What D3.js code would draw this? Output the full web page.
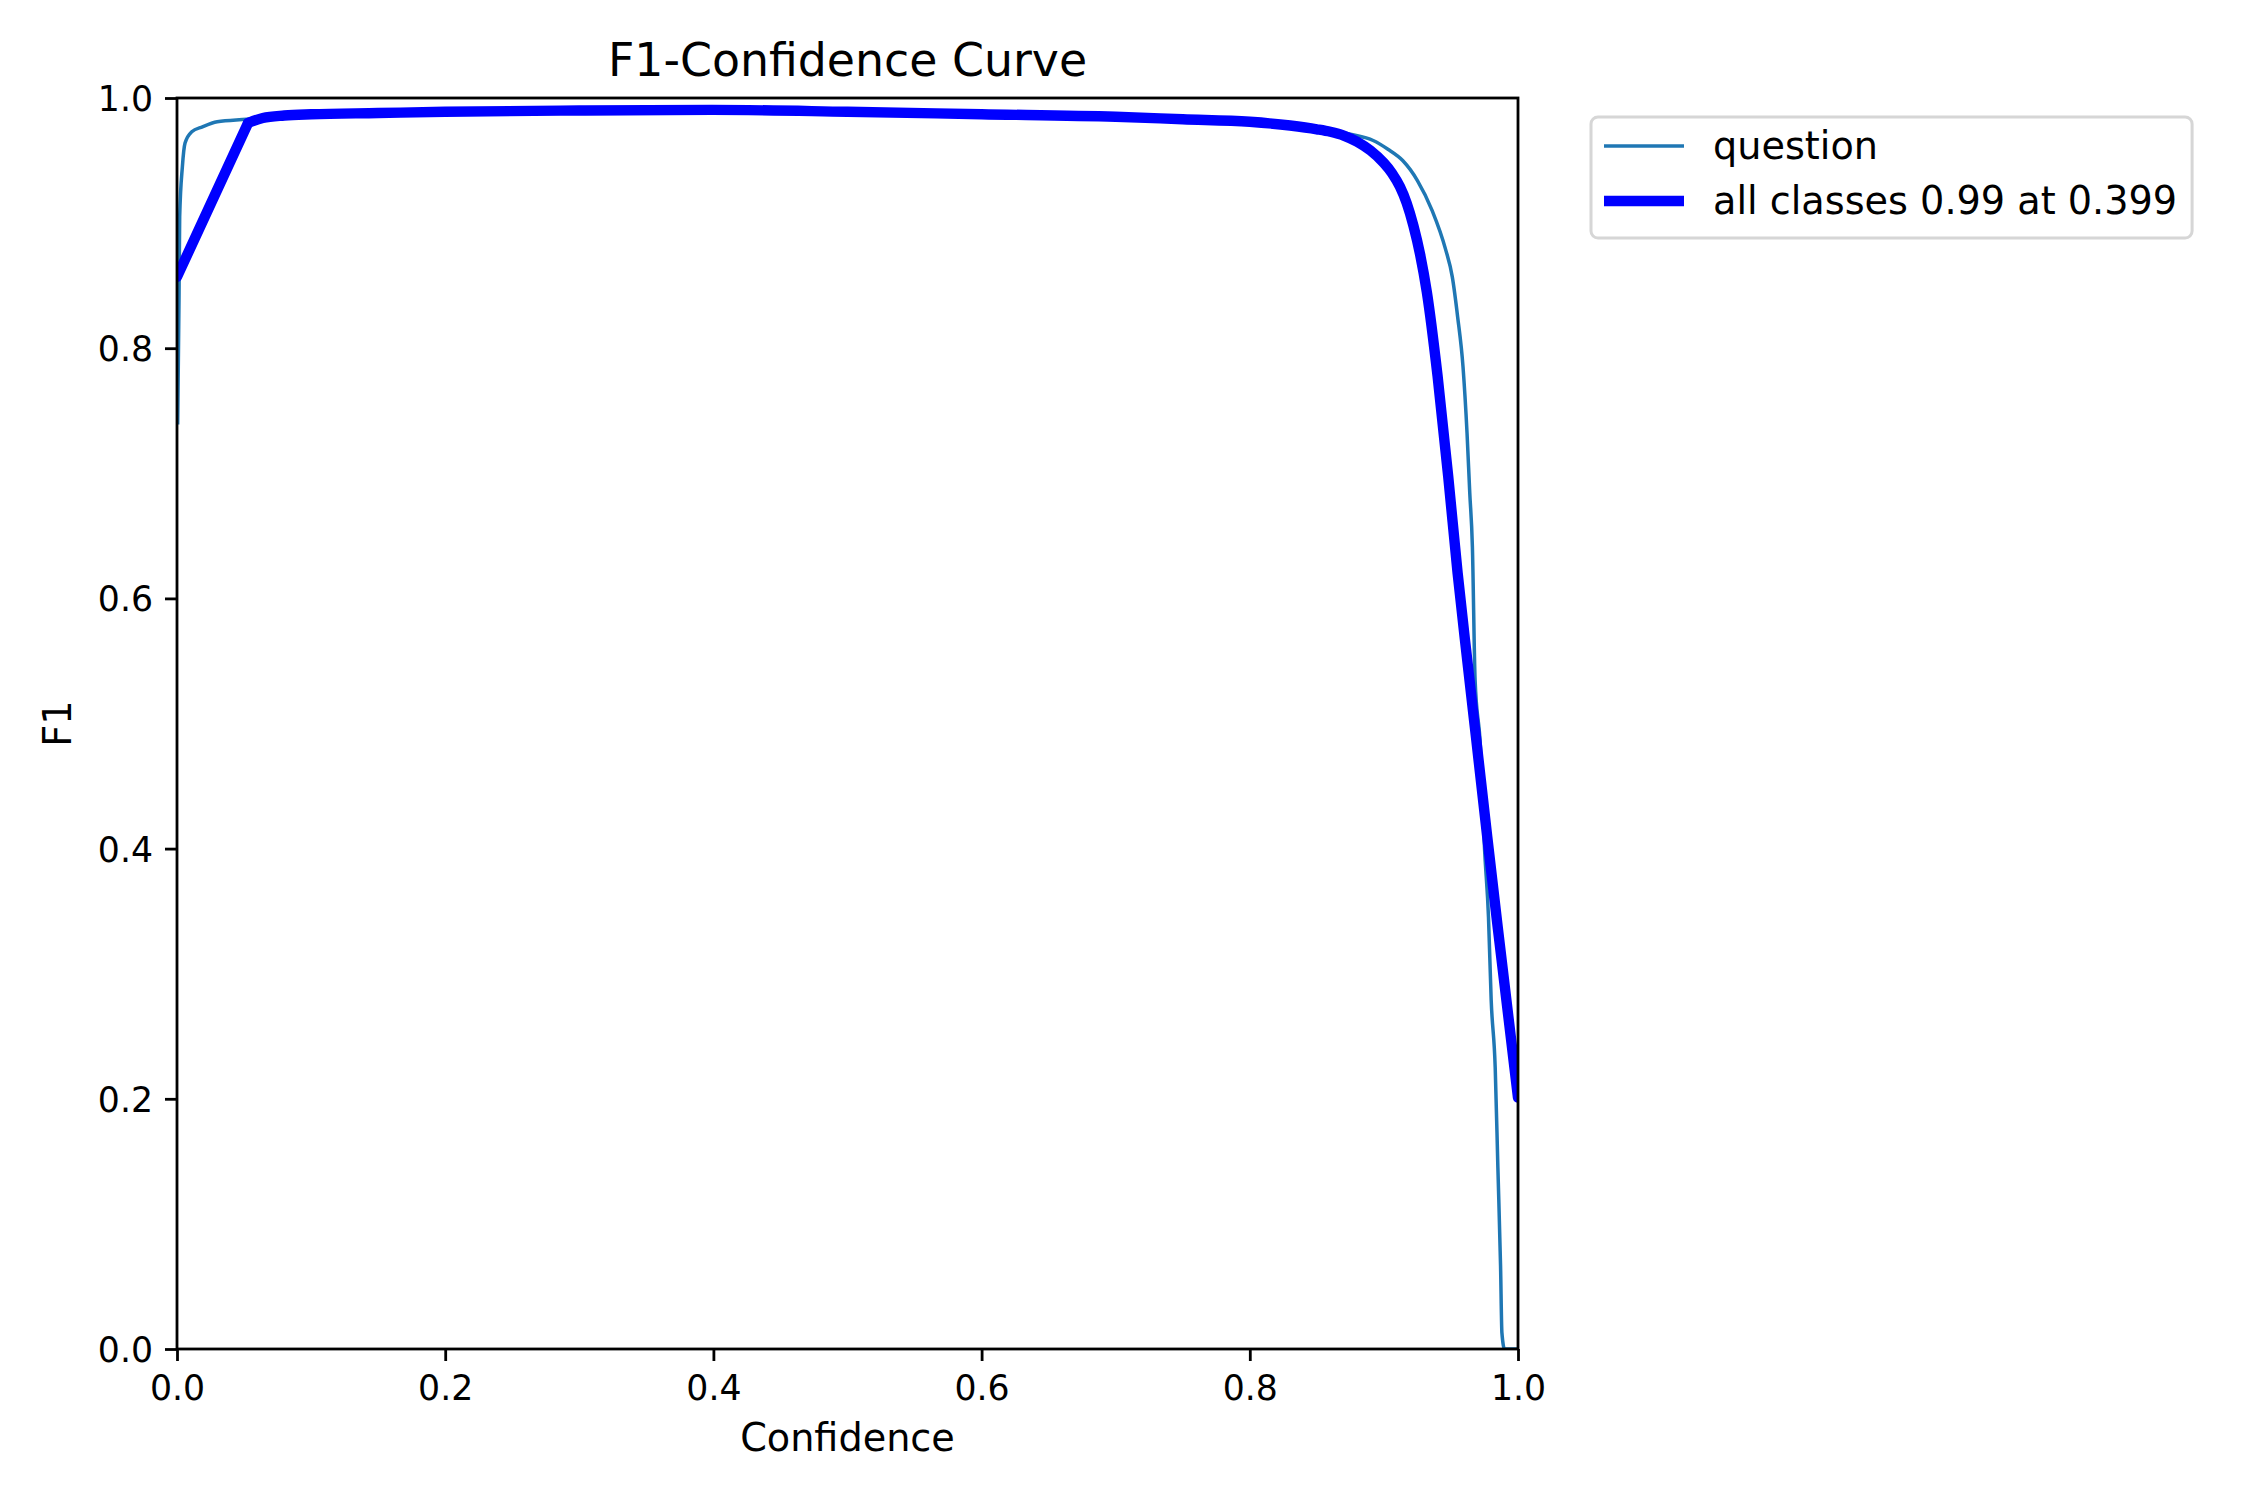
<html>
<head>
  <meta charset="utf-8">
  <style>
    body { margin: 0; background: #fff; }
    svg { display: block; font-family: "DejaVu Sans", sans-serif; }
  </style>
</head>
<body>
  <div id="elm"></div>
  <script src="https://d3js.org/d3.v7.min.js"></script>
  <script>
  'use strict';

  // values
  var confQuestion = [0.0005, 0.0015, 0.002, 0.004, 0.006, 0.011, 0.019, 0.030, 0.052, 0.08, 0.1, 0.2, 0.3, 0.4, 0.5,
    0.6, 0.7, 0.8, 0.85, 0.875, 0.892, 0.903, 0.914, 0.925, 0.936, 0.946, 0.951, 0.955, 0.959, 0.962, 0.964,
    0.966, 0.968, 0.972, 0.975, 0.978, 0.980, 0.983, 0.985, 0.987, 0.988, 0.990, 1.0];
  var f1Question = [0.739, 0.839, 0.905, 0.945, 0.964, 0.973, 0.977, 0.981, 0.983, 0.986, 0.987, 0.989, 0.990, 0.9905, 0.990,
    0.988, 0.986, 0.981, 0.976, 0.971, 0.966, 0.959, 0.950, 0.934, 0.910, 0.879, 0.857, 0.825, 0.785, 0.732, 0.685,
    0.641, 0.535, 0.481, 0.401, 0.345, 0.279, 0.225, 0.145, 0.066, 0.013, 0.0, 0.0];

  var confAll = [0, 0.053, 0.064, 0.08, 0.1, 0.15, 0.2, 0.3, 0.399, 0.5, 0.6, 0.7, 0.75, 0.8, 0.83, 0.85, 0.86,
    0.87, 0.88, 0.89, 0.9, 0.906, 0.912, 0.917, 0.922, 0.927, 0.932, 0.940, 0.948, 0.955, 0.962, 0.969, 0.977, 0.985, 1.0];
  var f1All = [0.857, 0.980, 0.984, 0.986, 0.987, 0.988, 0.989, 0.990, 0.9905, 0.989, 0.987, 0.985, 0.983, 0.981, 0.978, 0.975, 0.973,
    0.970, 0.965, 0.958, 0.948, 0.940, 0.929, 0.916, 0.898, 0.875, 0.845, 0.778, 0.697, 0.620, 0.552, 0.486, 0.410, 0.336, 0.201];

  var tickValues = [0, 0.2, 0.4, 0.6, 0.8, 1.0];
  var legendLabels = ['question', 'all classes 0.99 at 0.399'];

  var W = 2250, H = 1500;
  var axL = 177, axR = 1518, axT = 98, axB = 1349;
  var fsTick = 34.7, fsLabel = 38.2, fsTitle = 45.8;

  var svg = d3.select('#elm').append('svg')
    .attr('width', W).attr('height', H)
    .attr('viewBox', '0 0 ' + W + ' ' + H);
  svg.append('rect').attr('width', W).attr('height', H).attr('fill', '#fff');

  var x = d3.scaleLinear().domain([0, 1]).range([axL, axR]);
  var y = d3.scaleLinear().domain([0, 1]).range([axB, axT]);

  svg.append('clipPath').attr('id', 'clip')
    .append('rect').attr('x', axL).attr('y', axT)
    .attr('width', axR - axL).attr('height', axB - axT);

  var smooth = d3.line()
    .x(function(d) { return x(d[0]); })
    .y(function(d) { return y(d[1]); })
    .curve(d3.curveMonotoneX);
  var straight = d3.line()
    .x(function(d) { return x(d[0]); })
    .y(function(d) { return y(d[1]); });

  var allPts = d3.zip(confAll, f1All);

  var plot = svg.append('g').attr('clip-path', 'url(#clip)');
  plot.append('path')
    .datum(d3.zip(confQuestion, f1Question))
    .attr('d', smooth)
    .attr('fill', 'none').attr('stroke', '#1f77b4')
    .attr('stroke-width', 3.5).attr('stroke-linejoin', 'round');
  // first rise of the all-classes curve is a straight run, the rest is smooth
  plot.append('path')
    .datum(allPts.slice(0, 2))
    .attr('d', straight)
    .attr('fill', 'none').attr('stroke', '#0000ff')
    .attr('stroke-width', 10.4).attr('stroke-linecap', 'round');
  plot.append('path')
    .datum(allPts.slice(1))
    .attr('d', smooth)
    .attr('fill', 'none').attr('stroke', '#0000ff')
    .attr('stroke-width', 10.4).attr('stroke-linecap', 'round').attr('stroke-linejoin', 'round');

  // axes
  var xAxis = d3.axisBottom(x).tickValues(tickValues).tickFormat(d3.format('.1f')).tickSize(12).tickPadding(12);
  var yAxis = d3.axisLeft(y).tickValues(tickValues).tickFormat(d3.format('.1f')).tickSize(12).tickPadding(12);

  var gx = svg.append('g').attr('transform', 'translate(0,' + axB + ')').call(xAxis);
  var gy = svg.append('g').attr('transform', 'translate(' + axL + ',0)').call(yAxis);
  [gx, gy].forEach(function(g) {
    g.select('.domain').remove();
    g.selectAll('.tick line').attr('stroke', '#000').attr('stroke-width', 2.8);
    g.selectAll('.tick text').attr('fill', '#000')
      .style('font-family', '"DejaVu Sans", sans-serif').style('font-size', fsTick + 'px');
  });
  gx.selectAll('.tick text').attr('dy', null).attr('y', 51);
  gy.selectAll('.tick text').attr('dy', '0.36em');

  svg.append('rect')
    .attr('x', axL).attr('y', axT)
    .attr('width', axR - axL).attr('height', axB - axT)
    .attr('fill', 'none').attr('stroke', '#000').attr('stroke-width', 2.8);

  // titles
  svg.append('text').attr('x', (axL + axR) / 2).attr('y', 76)
    .attr('text-anchor', 'middle').style('font-size', fsTitle + 'px').text('F1-Confidence Curve');
  svg.append('text').attr('x', (axL + axR) / 2).attr('y', 1451)
    .attr('text-anchor', 'middle').style('font-size', fsLabel + 'px').text('Confidence');
  svg.append('text').attr('transform', 'translate(71,' + ((axT + axB) / 2) + ') rotate(-90)')
    .attr('text-anchor', 'middle').style('font-size', fsLabel + 'px').text('F1');

  // legend
  var lg = svg.append('g');
  var frame = lg.append('rect')
    .attr('x', 1591).attr('y', 117).attr('height', 121)
    .attr('rx', 7).attr('ry', 7)
    .attr('fill', '#fff').attr('stroke', '#d6d6d6').attr('stroke-width', 3);
  var rowsY = [146, 201];
  var widths = [3.5, 10.4];
  var colors = ['#1f77b4', '#0000ff'];
  var maxW = 0;
  legendLabels.forEach(function(lab, i) {
    lg.append('line')
      .attr('x1', 1604).attr('x2', 1684)
      .attr('y1', rowsY[i]).attr('y2', rowsY[i])
      .attr('stroke', colors[i]).attr('stroke-width', widths[i]);
    var t = lg.append('text').attr('x', 1713).attr('y', rowsY[i] + 13)
      .style('font-size', fsLabel + 'px').text(lab);
    maxW = Math.max(maxW, t.node().getComputedTextLength());
  });
  frame.attr('width', 1713 + maxW + 15 - 1591);
  </script>
</body>
</html>
